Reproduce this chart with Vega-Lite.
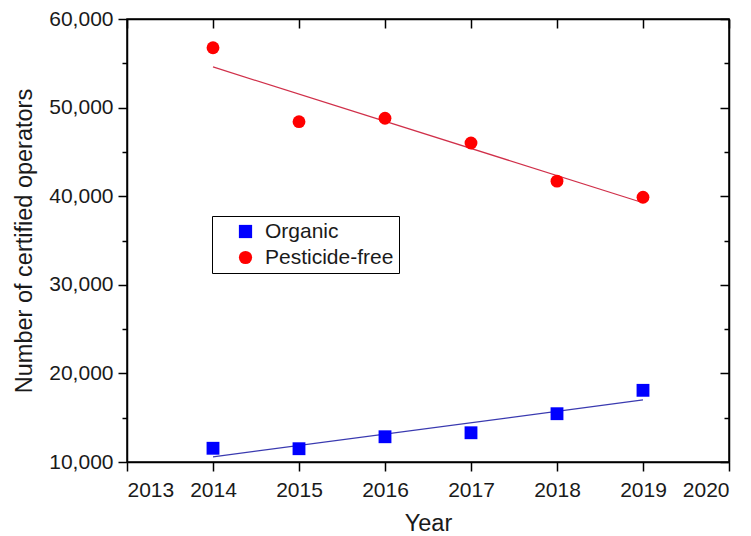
{
  "$schema": "https://vega.github.io/schema/vega-lite/v6.json",
  "autosize": {"type": "none"},
  "padding": {"left": 127, "top": 19, "right": 22, "bottom": 74},
  "width": 602,
  "height": 443,
  "background": "white",
  "config": {
    "font": "Liberation Sans",
    "view": {"stroke": "black", "strokeWidth": 1.5},
    "axis": {
      "labelFont": "Liberation Sans",
      "titleFont": "Liberation Sans",
      "labelColor": "#1a1a1a",
      "titleColor": "#1a1a1a",
      "labelFontSize": 21,
      "titleFontSize": 23.5,
      "titleFontWeight": "normal",
      "domainColor": "black",
      "domainWidth": 1.5,
      "tickColor": "black",
      "tickWidth": 1.5,
      "grid": false
    }
  },
  "data": {
    "values": [
      {"year": 2014, "series": "Organic", "value": 11550},
      {"year": 2015, "series": "Organic", "value": 11500},
      {"year": 2016, "series": "Organic", "value": 12850},
      {"year": 2017, "series": "Organic", "value": 13300},
      {"year": 2018, "series": "Organic", "value": 15450},
      {"year": 2019, "series": "Organic", "value": 18090},
      {"year": 2014, "series": "Pesticide-free", "value": 56760},
      {"year": 2015, "series": "Pesticide-free", "value": 48410},
      {"year": 2016, "series": "Pesticide-free", "value": 48800},
      {"year": 2017, "series": "Pesticide-free", "value": 46000},
      {"year": 2018, "series": "Pesticide-free", "value": 41700},
      {"year": 2019, "series": "Pesticide-free", "value": 39880}
    ]
  },
  "layer": [
    {
      "transform": [
        {"filter": "datum.series === 'Organic'"},
        {"regression": "value", "on": "year"}
      ],
      "mark": {"type": "line", "strokeWidth": 1.2, "color": "#3a3ab0"},
      "encoding": {
        "x": {"field": "year", "type": "quantitative", "axis": null},
        "y": {"field": "value", "type": "quantitative", "axis": null}
      }
    },
    {
      "transform": [
        {"filter": "datum.series === 'Pesticide-free'"},
        {"regression": "value", "on": "year"}
      ],
      "mark": {"type": "line", "strokeWidth": 1.2, "color": "#d0304a"},
      "encoding": {
        "x": {"field": "year", "type": "quantitative", "axis": null},
        "y": {"field": "value", "type": "quantitative", "axis": null}
      }
    },
    {
      "mark": {"type": "point", "filled": true, "opacity": 1, "size": 165},
      "encoding": {
        "x": {
          "field": "year",
          "type": "quantitative",
          "scale": {"domain": [2013, 2020], "nice": false, "zero": false},
          "axis": {
            "orient": "bottom",
            "title": "Year",
            "values": [2013, 2014, 2015, 2016, 2017, 2018, 2019, 2020],
            "format": "d",
            "tickSize": 9,
            "labelPadding": 8,
            "titlePadding": 11
          }
        },
        "y": {
          "field": "value",
          "type": "quantitative",
          "scale": {"domain": [10000, 60000], "nice": false, "zero": false},
          "axis": {
            "orient": "left",
            "title": "Number of certified operators",
            "values": [10000, 15000, 20000, 25000, 30000, 35000, 40000, 45000, 50000, 55000, 60000],
            "format": ",d",
            "labelExpr": "datum.value % 10000 === 0 ? datum.label : ''",
            "tickSize": {"condition": {"test": "datum.value % 10000 === 0", "value": 9}, "value": 5},
            "labelPadding": 5,
            "titlePadding": 12
          }
        },
        "color": {
          "field": "series",
          "type": "nominal",
          "scale": {"domain": ["Organic", "Pesticide-free"], "range": ["#0000ff", "#ff0000"]},
          "legend": {
            "title": null,
            "orient": "none",
            "legendX": 85,
            "legendY": 197,
            "strokeColor": "black",
            "fillColor": "white",
            "padding": 5,
            "symbolOffset": 18,
            "labelOffset": 9,
            "labelFont": "Liberation Sans",
            "labelFontSize": 21,
            "labelColor": "#1a1a1a",
            "symbolSize": 175,
            "rowPadding": 4,
            "labelLimit": 300
          }
        },
        "shape": {
          "field": "series",
          "type": "nominal",
          "scale": {"domain": ["Organic", "Pesticide-free"], "range": ["square", "circle"]}
        }
      }
    },
    {
      "mark": {"type": "point", "opacity": 0},
      "encoding": {
        "x": {
          "field": "year",
          "type": "quantitative",
          "axis": {
            "orient": "top",
            "title": null,
            "labels": false,
            "values": [2013, 2014, 2015, 2016, 2017, 2018, 2019, 2020],
            "tickSize": -9
          }
        },
        "y": {
          "field": "value",
          "type": "quantitative",
          "axis": {
            "orient": "right",
            "title": null,
            "labels": false,
            "values": [10000, 15000, 20000, 25000, 30000, 35000, 40000, 45000, 50000, 55000, 60000],
            "tickSize": {"condition": {"test": "datum.value % 10000 === 0", "value": -9}, "value": -5}
          }
        }
      }
    }
  ]
}
